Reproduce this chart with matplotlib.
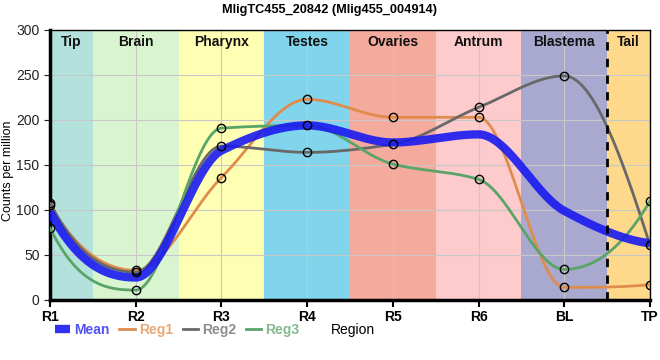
import matplotlib
matplotlib.use("Agg")
import matplotlib.pyplot as plt
import numpy as np

plt.rcParams['font.family'] = ['Liberation Sans', 'DejaVu Sans']

regions = ["R1", "R2", "R3", "R4", "R5", "R6", "BL", "TP"]
mean = [98, 25, 166, 194, 175, 184, 99, 63]
reg1 = [105, 33, 136, 223, 203, 203, 14, 17]
reg2 = [108, 31, 171, 164, 173, 214, 249, 61]
reg3 = [80, 11, 191, 194, 151, 134, 34, 110]

band_names = ["Tip", "Brain", "Pharynx", "Testes", "Ovaries", "Antrum", "Blastema", "Tail"]
band_edges = [0, 0.5, 1.5, 2.5, 3.5, 4.5, 5.5, 6.5, 7]
band_colors = ["#b3e2dd", "#d9f5d0", "#ffffb4", "#80d4eb", "#f4aa9c",
               "#fdcbcc", "#a9a8cf", "#fed98c"]


def end_slope(h0, h1, d0, d1):
    m = ((2 * h0 + h1) * d0 - h0 * d1) / (h0 + h1)
    if np.sign(m) != np.sign(d0):
        return 0.0
    if np.sign(d0) != np.sign(d1) and abs(m) > 3 * abs(d0):
        return 3 * d0
    return m


def pchip(x, y, xs):
    # monotone cubic (Fritsch-Carlson) so the curves stay flat at peaks
    x = np.asarray(x, float)
    y = np.asarray(y, float)
    h = np.diff(x)
    d = np.diff(y) / h
    m = np.zeros_like(y)
    for k in range(1, len(y) - 1):
        if d[k - 1] * d[k] > 0:
            w1 = 2 * h[k] + h[k - 1]
            w2 = h[k] + 2 * h[k - 1]
            m[k] = (w1 + w2) / (w1 / d[k - 1] + w2 / d[k])
    m[0] = end_slope(h[0], h[1], d[0], d[1])
    m[-1] = end_slope(h[-1], h[-2], d[-1], d[-2])
    idx = np.clip(np.searchsorted(x, xs) - 1, 0, len(x) - 2)
    t = (xs - x[idx]) / h[idx]
    h00 = 2 * t**3 - 3 * t**2 + 1
    h10 = t**3 - 2 * t**2 + t
    h01 = -2 * t**3 + 3 * t**2
    h11 = t**3 - t**2
    return (h00 * y[idx] + h10 * h[idx] * m[idx]
            + h01 * y[idx + 1] + h11 * h[idx] * m[idx + 1])


xpos = np.arange(len(regions))
xs = np.linspace(0, len(regions) - 1, 700)

fig = plt.figure(figsize=(6.6, 3.6), dpi=100)
ax = fig.add_axes([0.0758, 0.1667, 0.909, 0.75])

for i, name in enumerate(band_names):
    ax.axvspan(band_edges[i], band_edges[i + 1], color=band_colors[i], lw=0, zorder=0)
    ax.text((band_edges[i] + band_edges[i + 1]) / 2, 294, name, ha="center", va="top",
            fontsize=10, fontweight="bold", color="#111111", zorder=5)

ax.grid(True, color="#c8c8c8", lw=0.8, zorder=1)
ax.set_axisbelow(True)

series = [("Reg1", reg1, "#e08c4c"), ("Reg2", reg2, "#686868"), ("Reg3", reg3, "#5aa468")]
for name, vals, col in series:
    ax.plot(xs, pchip(xpos, vals, xs), color=col, lw=2.0, zorder=3, label=name)
ax.plot(xs, pchip(xpos, mean, xs), color="#1a1af0", lw=6, alpha=0.9, zorder=4,
        label="Mean", solid_capstyle="butt")
for name, vals, col in series:
    ax.plot(xpos, vals, "o", ms=6, mfc="none", mec="black", mew=1.0, zorder=6)

ax.axvline(6.5, color="black", ls=(0, (3, 3)), lw=2, zorder=5)

ax.set_xlim(0, 7)
ax.set_ylim(0, 300)
ax.set_xticks(xpos)
ax.set_xticklabels(regions, fontweight="bold", fontsize=10)
ax.set_yticks(range(0, 301, 50))
ax.tick_params(axis="y", labelsize=10, length=4, colors="#222222")
ax.tick_params(axis="x", length=5, width=1.5, pad=2)
for s in ["left", "bottom"]:
    ax.spines[s].set_linewidth(2.5)
for s in ["top", "right"]:
    ax.spines[s].set_linewidth(1)
ax.set_ylabel("Counts per million", fontsize=9)
ax.yaxis.set_label_coords(-0.06, 0.48)

fig.text(0.5, 0.972, "MligTC455_20842 (Mlig455_004914)", fontsize=9.2,
         fontweight="bold", ha="center", va="center")

h, l = ax.get_legend_handles_labels()
order = [3, 0, 1, 2]
leg = fig.legend([h[i] for i in order], [l[i] for i in order], loc="center left",
                 bbox_to_anchor=(0.083, 0.083), ncol=4, frameon=False,
                 handlelength=1.1, handletextpad=0.3, columnspacing=0.7,
                 labelcolor="linecolor", prop={"weight": "bold", "size": 10},
                 borderaxespad=0, borderpad=0)
for t in leg.get_texts():
    t.set_alpha(0.75)
fig.text(0.5015, 0.083, "Region", fontsize=10, va="center", ha="left")

fig.savefig("out.png", dpi=100)
